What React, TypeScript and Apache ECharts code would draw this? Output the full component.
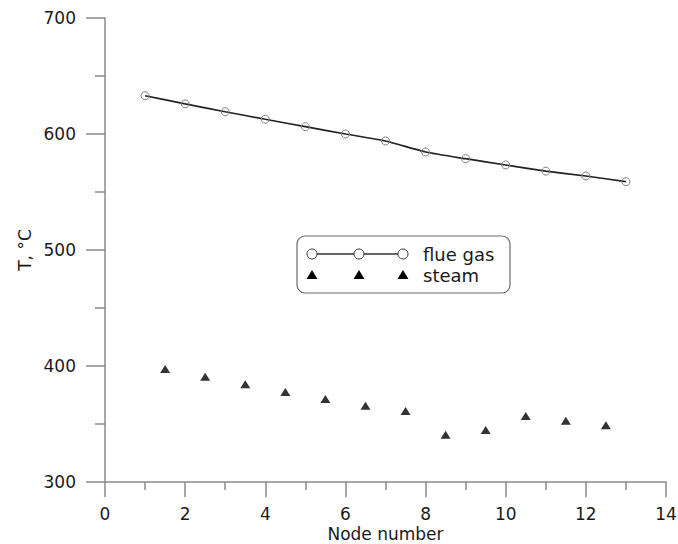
import React, { useEffect, useRef } from "react";
import * as echarts from "echarts";

const flueNodes = [1, 2, 3, 4, 5, 6, 7, 8, 9, 10, 11, 12, 13];
const flueGas = [633, 626, 619.2, 612.7, 606.3, 600, 594, 584.5, 578.7, 573.3, 568, 563.8, 558.9];
const steamNodes = [1.5, 2.5, 3.5, 4.5, 5.5, 6.5, 7.5, 8.5, 9.5, 10.5, 11.5, 12.5];
const steam = [397.5, 390.8, 384.2, 377.6, 371.6, 365.8, 361.2, 340.8, 344.8, 356.9, 352.8, 348.9];

const FONT = "DejaVu Sans";
const AXIS_COLOR = "#8a8a8a";

export default function App() {
  const ref = useRef<HTMLDivElement>(null);
  useEffect(() => {
    if (!ref.current) return;
    const chart = echarts.init(ref.current, undefined, { renderer: "svg" });
    const axisCommon = {
      axisLine: { show: true, lineStyle: { color: AXIS_COLOR, width: 1.5 } },
      splitLine: { show: false },
      axisLabel: { color: "#1a1a1a", fontFamily: FONT, fontSize: 17, lineHeight: 17 },
      nameTextStyle: { color: "#1a1a1a", fontFamily: FONT, fontSize: 17, lineHeight: 16 },
      nameLocation: "middle" as const,
    };
    chart.setOption({
      animation: false,
      backgroundColor: "#ffffff",
      grid: { left: 105, right: 12, top: 18, bottom: 62, containLabel: false, outerBoundsMode: "none" },
      xAxis: {
        ...axisCommon,
        type: "value",
        min: 0,
        max: 14,
        interval: 2,
        name: "Node number",
        nameGap: 44,
        nameMoveOverlap: false,
        axisTick: { show: true, length: 15, lineStyle: { color: AXIS_COLOR, width: 1.5 } },
        minorTick: { show: true, splitNumber: 2, length: 8, lineStyle: { color: AXIS_COLOR, width: 1.5 } },
        axisLabel: { ...axisCommon.axisLabel, margin: 23 },
      },
      yAxis: {
        ...axisCommon,
        type: "value",
        min: 300,
        max: 700,
        interval: 100,
        name: "T, °C",
        nameRotate: 90,
        nameGap: 72,
        nameMoveOverlap: false,
        axisTick: { show: true, length: 19, lineStyle: { color: AXIS_COLOR, width: 1.5 } },
        minorTick: { show: true, splitNumber: 2, length: 10, lineStyle: { color: AXIS_COLOR, width: 1.5 } },
        axisLabel: { ...axisCommon.axisLabel, margin: 29 },
      },
      series: [
        {
          name: "flue gas",
          type: "line",
          data: flueNodes.map((x, i) => [x, flueGas[i]]),
          symbol: "circle",
          symbolSize: 8,
          smooth: 0.15,
          lineStyle: { color: "#222", width: 1.7 },
          itemStyle: { color: "rgba(255,255,255,0)", borderColor: "#808080", borderWidth: 1 },
          z: 3,
        },
        {
          name: "steam",
          type: "scatter",
          data: steamNodes.map((x, i) => [x, steam[i]]),
          symbol: "triangle",
          symbolSize: [10, 8],
          itemStyle: { color: "#000" },
        },
      ],
      graphic: [
        {
          type: "rect",
          shape: { x: 297, y: 236, width: 213, height: 57, r: 8 },
          style: { fill: "#fff", stroke: "#6a6a6a", lineWidth: 1.2 },
          z: 10,
        },
        {
          type: "polyline",
          shape: { points: [[312, 254], [403, 254]] },
          style: { stroke: "#333", lineWidth: 1.5, fill: null },
          z: 11,
        },
        ...[312, 359, 403].map((cx) => ({
          type: "circle",
          shape: { cx, cy: 254, r: 5 },
          style: { fill: "#fff", stroke: "#333", lineWidth: 1 },
          z: 12,
        })),
        ...[312, 359, 403].map((cx) => ({
          type: "polygon",
          shape: { points: [[cx, 270], [cx + 5.5, 279], [cx - 5.5, 279]] },
          style: { fill: "#000" },
          z: 12,
        })),
        {
          type: "text",
          x: 423,
          y: 254,
          style: { text: "flue gas", fill: "#1a1a1a", font: `18px "${FONT}"`, verticalAlign: "middle", align: "left" },
          z: 12,
        },
        {
          type: "text",
          x: 423,
          y: 275,
          style: { text: "steam", fill: "#1a1a1a", font: `18px "${FONT}"`, verticalAlign: "middle", align: "left" },
          z: 12,
        },
      ],
    });
    return () => chart.dispose();
  }, []);
  return (
    <div
      ref={ref}
      style={{ position: "fixed", left: 0, top: 0, width: 678, height: 544, background: "#fff" }}
    />
  );
}
